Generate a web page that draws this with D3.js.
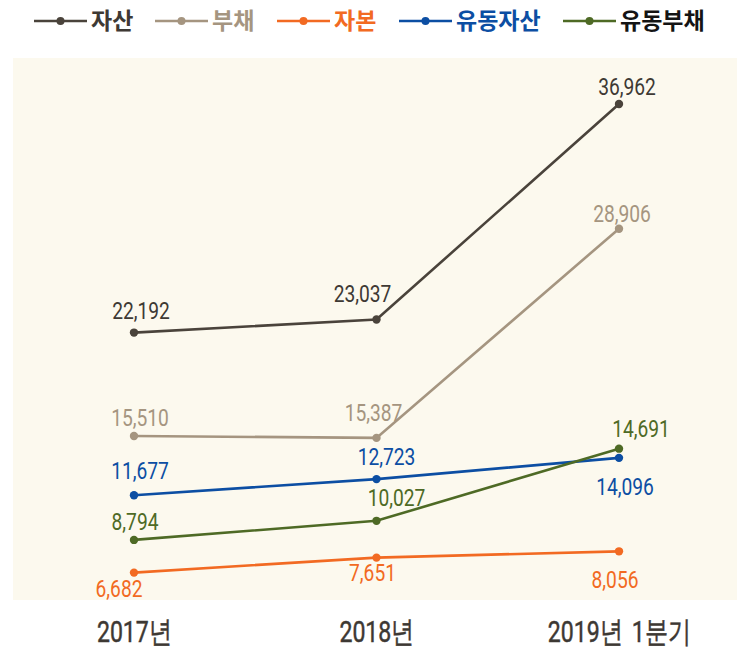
<!DOCTYPE html>
<html>
<head>
<meta charset="utf-8">
<script src="https://cdn.jsdelivr.net/npm/d3@7"></script>
<style>
  body { margin: 0; background: #fff; }
  svg { display: block; }
  .num { font-family: "Roboto", "Liberation Sans", sans-serif; }
  .kr { font-family: "Noto Sans CJK KR", "Noto Sans", sans-serif; }
</style>
</head>
<body>
<svg id="chart" width="737" height="650"></svg>
<script>
const categories = ["2017년", "2018년", "2019년 1분기"];
const seriesNames = ["자산", "부채", "자본", "유동자산", "유동부채"];
const assets = [22192, 23037, 36962];
const liabilities = [15510, 15387, 28906];
const equity = [6682, 7651, 8056];
const currentAssets = [11677, 12723, 14096];
const currentLiabilities = [8794, 10027, 14691];

const colors = ["#4a433b", "#a59580", "#f26a22", "#0c4ea3", "#4e6a25"];
const legendTextColors = ["#3e3934", "#a59580", "#f26a22", "#0c4ea3", "#141414"];
const labelColors = ["#3e3934", "#a59580", "#f26a22", "#0c4ea3", "#4e6a25"];

// hand placed value labels: [dx, dy] from the point to the label's baseline centre
const labelNudge = [
  [[7, -14], [-14, -18], [8, -9]],
  [[6, -10], [-3, -17], [3, -7]],
  [[-15, 24], [-4, 23], [-4, 37]],
  [[6, -16], [10, -14], [6, 37]],
  [[1, -10], [20, -15], [22, -12]]
];

const seriesData = [assets, liabilities, equity, currentAssets, currentLiabilities];
const condense = 0.8; // the source uses a condensed face

const svg = d3.select("#chart");
const panel = { x: 13, y: 58, w: 724, h: 542 };

svg.append("rect")
  .attr("x", panel.x).attr("y", panel.y)
  .attr("width", panel.w).attr("height", panel.h)
  .attr("fill", "#fcf9ee");

const xScale = d3.scalePoint().domain(categories).range([134, 619]);
const yScale = d3.scaleLinear().domain([0, 40000]).range([676, 57]);

const line = d3.line()
  .x((d, i) => xScale(categories[i]))
  .y((d) => yScale(d));

// category labels
const xAxis = d3.axisBottom(xScale).tickSize(0).tickPadding(0);
const axisGrp = svg.append("g")
  .attr("transform", "translate(0,642)")
  .call(xAxis);
axisGrp.select(".domain").remove();
axisGrp.selectAll("text")
  .attr("class", "num")
  .attr("y", 0)
  .attr("dy", 0)
  .attr("transform", "scale(0.77,1)")
  .attr("fill", "#3d3833")
  .attr("font-size", 30)
  .attr("font-weight", 400)
  .attr("stroke", "#3d3833")
  .attr("stroke-width", 0.5)
  .attr("word-spacing", 4);

seriesData.forEach((values, s) => {
  const g = svg.append("g").attr("class", "series");
  g.append("path")
    .datum(values)
    .attr("fill", "none")
    .attr("stroke", colors[s])
    .attr("stroke-width", 2.6)
    .attr("d", line);

  g.selectAll("circle")
    .data(values)
    .join("circle")
    .attr("cx", (d, i) => xScale(categories[i]))
    .attr("cy", (d) => yScale(d))
    .attr("r", 4.2)
    .attr("fill", colors[s]);

  g.selectAll("text")
    .data(values)
    .join("text")
    .attr("class", "num")
    .attr("transform", (d, i) => {
      const x = xScale(categories[i]) + labelNudge[s][i][0];
      const y = yScale(d) + labelNudge[s][i][1];
      return `translate(${x},${y}) scale(${condense},1)`;
    })
    .attr("text-anchor", "middle")
    .attr("font-size", 24)
    .attr("fill", labelColors[s])
    .text((d) => d3.format(",")(d));
});

// legend
const legendX = [34, 155, 277, 399, 563];
const legend = svg.append("g").attr("transform", "translate(0,21)");
seriesNames.forEach((name, s) => {
  const item = legend.append("g").attr("transform", `translate(${legendX[s]},0)`);
  item.append("line")
    .attr("x1", 0).attr("x2", 53)
    .attr("stroke", colors[s])
    .attr("stroke-width", 2.6);
  item.append("circle")
    .attr("cx", 26.5).attr("r", 4)
    .attr("fill", colors[s]);
  item.append("text")
    .attr("class", "kr")
    .attr("x", 57)
    .attr("y", 8)
    .attr("font-size", 23)
    .attr("font-weight", 700)
    .attr("fill", legendTextColors[s])
    .text(name);
});
</script>
</body>
</html>
